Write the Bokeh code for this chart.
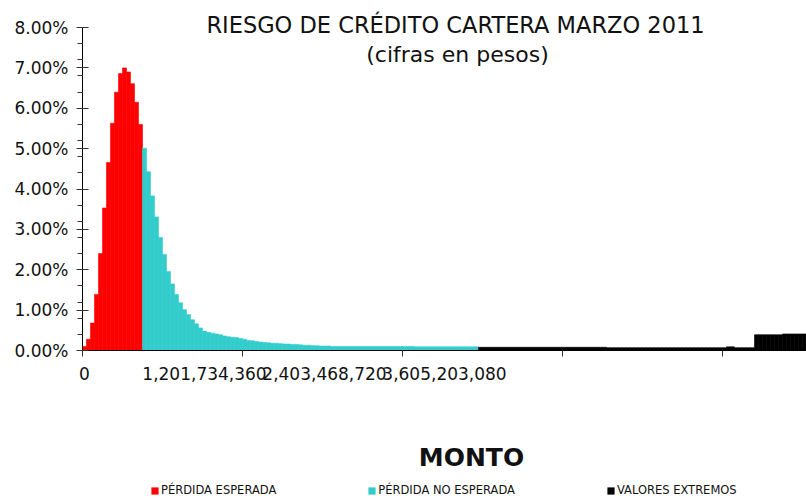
import numpy as np
from bokeh.plotting import figure
from bokeh.layouts import column
from bokeh.models import (Range1d, FixedTicker, NumeralTickFormatter, Label, Legend,
                          LegendItem, ColumnDataSource)
from bokeh.embed import file_html
from bokeh.resources import INLINE

# ---- data (percent of portfolio per loss bin; bins are equal-width categories) ----
n_bins = 181
bin_tick_every = 40          # tick marks every 40 categories
x_label_bins = [0, 30, 60, 90]
x_labels = ["0", "1,201,734,360", "2,403,468,720", "3,605,203,080"]

red_bins = list(range(0, 15))
red_pct = [0.10, 0.28, 0.68, 1.39, 2.40, 3.53, 4.66, 5.63, 6.40, 6.86,
           7.00, 6.90, 6.61, 6.15, 5.60]

cyan_bins = list(range(15, 99))
cyan_pct = [5.01, 4.43, 3.83, 3.31, 2.80, 2.38, 1.96, 1.65, 1.39, 1.18,
            1.01, 0.89, 0.76, 0.66, 0.56, 0.48, 0.45, 0.43, 0.41, 0.39,
            0.36, 0.34, 0.33, 0.32, 0.30, 0.28, 0.25, 0.24, 0.22, 0.21,
            0.20, 0.19, 0.18, 0.18, 0.17, 0.16, 0.16, 0.15, 0.15, 0.14,
            0.13, 0.13, 0.12, 0.12, 0.11, 0.11, 0.11, 0.10, 0.10, 0.10,
            0.10, 0.10, 0.10, 0.10, 0.10, 0.10, 0.10, 0.10, 0.10, 0.10,
            0.10, 0.10, 0.10, 0.10, 0.10, 0.10, 0.10, 0.10, 0.09, 0.09,
            0.09, 0.09, 0.09, 0.09, 0.09, 0.09, 0.09, 0.09, 0.09, 0.09,
            0.09, 0.09, 0.09, 0.09]

black_bins = list(range(99, 181))
black_pct = [0.08, 0.08, 0.08, 0.08, 0.08, 0.08, 0.08, 0.08, 0.08, 0.08,
             0.08, 0.08, 0.08, 0.08, 0.08, 0.08, 0.08, 0.08, 0.08, 0.08,
             0.08, 0.08, 0.08, 0.08, 0.08, 0.08, 0.08, 0.08, 0.08, 0.08,
             0.08, 0.08, 0.07, 0.07, 0.07, 0.07, 0.07, 0.07, 0.07, 0.07,
             0.07, 0.07, 0.07, 0.07, 0.07, 0.07, 0.07, 0.07, 0.07, 0.07,
             0.07, 0.07, 0.07, 0.07, 0.07, 0.07, 0.07, 0.07, 0.07, 0.07,
             0.07, 0.07, 0.09, 0.09, 0.07, 0.07, 0.07, 0.07, 0.07,
             0.39, 0.39, 0.39, 0.39, 0.39, 0.39, 0.39,
             0.41, 0.41, 0.41, 0.41, 0.41, 0.41]

y_major_pct = [0, 1, 2, 3, 4, 5, 6, 7, 8]
y_minor_step_pct = 0.4

series_names = ["PÉRDIDA ESPERADA", "PÉRDIDA NO ESPERADA", "VALORES EXTREMOS"]
series_colors = ["#FF0000", "#33CCCC", "#000000"]

title_text = "RIESGO DE CRÉDITO CARTERA MARZO 2011"
subtitle_text = "(cifras en pesos)"
x_title = "MONTO"

FONT = "DejaVu Sans"
TEXT_COLOR = "#111111"

# ---------------- main chart ----------------
p = figure(width=806, height=385, output_backend="svg", toolbar_location=None,
           x_range=Range1d(-0.5, n_bins - 0.5), y_range=Range1d(0, 0.0867),
           min_border_left=82, min_border_right=0, min_border_top=0, min_border_bottom=35)
p.outline_line_color = None
p.xgrid.visible = False
p.ygrid.visible = False

for bins, vals, col in [(red_bins, red_pct, series_colors[0]),
                        (cyan_bins, cyan_pct, series_colors[1]),
                        (black_bins, black_pct, series_colors[2])]:
    p.vbar(x=bins, top=np.array(vals) / 100.0, width=1.0,
           fill_color=col, line_color=col, line_width=0.6)

# y axis
ya = p.yaxis[0]
ya.bounds = (0, 0.08)
ya.ticker = FixedTicker(ticks=[v / 100.0 for v in y_major_pct],
                        minor_ticks=[k * y_minor_step_pct / 100.0 for k in range(1, 21)])
ya.formatter = NumeralTickFormatter(format="0.00%")
ya.axis_line_color = "black"
ya.major_tick_line_color = "#333333"
ya.minor_tick_line_color = "#333333"
ya.major_tick_in = 6
ya.major_tick_out = 6
ya.minor_tick_in = 0
ya.minor_tick_out = 5
ya.major_label_standoff = 8
ya.major_label_text_font = FONT
ya.major_label_text_font_size = "17px"
ya.major_label_text_color = TEXT_COLOR

# x axis
xa = p.xaxis[0]
xa.ticker = FixedTicker(ticks=x_label_bins,
                        minor_ticks=[k * bin_tick_every - 0.5 for k in range(0, 5)])
xa.major_label_overrides = {b: t for b, t in zip(x_label_bins, x_labels)}
xa.axis_line_color = "black"
xa.major_tick_in = 0
xa.major_tick_out = 0
xa.minor_tick_in = 0
xa.minor_tick_out = 6
xa.minor_tick_line_color = "#333333"
xa.major_label_standoff = 10
xa.major_label_text_font = FONT
xa.major_label_text_font_size = "17px"
xa.major_label_text_color = TEXT_COLOR

# chart titles (inside the frame, above the bars)
p.add_layout(Label(x=373, y=326, x_units="screen", y_units="screen", text=title_text,
                   text_align="center", text_baseline="middle", text_font=FONT,
                   text_font_size="22.5px", text_color=TEXT_COLOR))
p.add_layout(Label(x=375, y=296, x_units="screen", y_units="screen", text=subtitle_text,
                   text_align="center", text_baseline="middle", text_font=FONT,
                   text_font_size="22px", text_color=TEXT_COLOR))

# ---------------- axis title + legend strip (frame aligned with the chart above) ----------------
p2 = figure(width=806, height=115, output_backend="svg", toolbar_location=None,
            x_axis_type=None, y_axis_type=None,
            x_range=Range1d(0, 1), y_range=Range1d(0, 1),
            min_border_left=82, min_border_right=0, min_border_top=0, min_border_bottom=0)
p2.outline_line_color = None
p2.xgrid.visible = False
p2.ygrid.visible = False

p2.add_layout(Label(x=389, y=43, x_units="screen", y_units="screen", text=x_title,
                    text_align="center", text_baseline="middle", text_font=FONT,
                    text_font_style="bold", text_font_size="25px", text_color=TEXT_COLOR))

# legend swatches: zero-size bars carrying the series colours
swatch_src = ColumnDataSource(dict(x=[0.0, 0.0, 0.0], top=[0.0, 0.0, 0.0],
                                   color=series_colors, name=series_names))
swatch = p2.vbar(x="x", top="top", width=0.0, fill_color="color", line_color=None,
                 source=swatch_src)
legend = Legend(items=[LegendItem(label=n, renderers=[swatch], index=i)
                       for i, n in enumerate(series_names)],
                orientation="horizontal", location=(68, 3), spacing=91,
                glyph_width=9, glyph_height=9, label_standoff=2, label_height=12,
                padding=0, margin=0, border_line_color=None, background_fill_alpha=0,
                label_text_font=FONT, label_text_font_size="11.5px", label_text_color=TEXT_COLOR)
p2.add_layout(legend)

open("out.html", "w").write(file_html(column(p, p2, spacing=0), INLINE))
